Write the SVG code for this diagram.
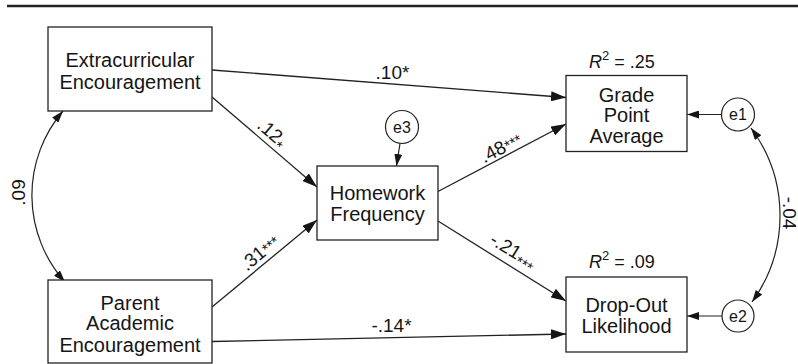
<svg xmlns="http://www.w3.org/2000/svg" width="798" height="364" viewBox="0 0 798 364">
<style>
  .box { fill: #fff; stroke: #222; stroke-width: 1.3; }
  .err { fill: #fff; stroke: #222; stroke-width: 1.2; }
  .lbl { font-family: "Liberation Sans", Arial, sans-serif; font-size: 20px; fill: #151515; text-anchor: middle; }
  .coef { font-family: "Liberation Sans", Arial, sans-serif; font-size: 19px; fill: #151515; text-anchor: middle; }
  .etxt { font-family: "Liberation Sans", Arial, sans-serif; font-size: 16px; fill: #151515; text-anchor: middle; }
  .r2 { font-family: "Liberation Sans", Arial, sans-serif; font-size: 18px; fill: #151515; }
  .edge { fill: none; stroke: #222; stroke-width: 1.3; marker-end: url(#ah); }
  .sedge { fill: none; stroke: #222; stroke-width: 1.2; marker-end: url(#sah); }
  .cov { fill: none; stroke: #222; stroke-width: 1.2; marker-start: url(#sah); marker-end: url(#sah); }
</style>
<defs>
  <marker id="ah" markerUnits="userSpaceOnUse" viewBox="0 0 15 10" markerWidth="15" markerHeight="10" refX="15" refY="5" orient="auto-start-reverse">
    <path d="M0,0 L15,5 L0,10 z" fill="#151515"/>
  </marker>
  <marker id="sah" markerUnits="userSpaceOnUse" viewBox="0 0 12 8" markerWidth="12" markerHeight="8" refX="12" refY="4" orient="auto-start-reverse">
    <path d="M0,0 L12,4 L0,8 z" fill="#151515"/>
  </marker>
</defs>

<line x1="7" y1="6" x2="798" y2="6" stroke="#222" stroke-width="2.5"/>

<g id="connectors">
  <path class="edge" d="M212,70 L566,97.5"/>
  <path class="edge" d="M212,97 L317,187"/>
  <path class="edge" d="M212,307 L317,220"/>
  <path class="edge" d="M212,341.5 L566,334"/>
  <path class="edge" d="M438,191.5 L566,124"/>
  <path class="edge" d="M438,221 L566,301"/>
  <path class="sedge" d="M400,143.5 L396.5,166"/>
  <path class="sedge" d="M721.5,114.5 L687,114.5"/>
  <path class="sedge" d="M722,316 L687,316"/>
  <path class="cov" d="M63,111 A130,130 0 0 0 65,282"/>
  <path class="cov" d="M751,128 A147,147 0 0 1 752,302"/>

  <text class="coef" x="392.5" y="78.5">.10*</text>
  <text class="coef" transform="translate(272,133) rotate(41)" y="6">.12<tspan font-size="15" dy="5">*</tspan></text>
  <text class="coef" transform="translate(260,253) rotate(-39.6)" y="6">.31<tspan font-size="15">***</tspan></text>
  <text class="coef" transform="translate(501,148) rotate(-27.6)" y="6">.48<tspan font-size="15">***</tspan></text>
  <text class="coef" transform="translate(513,251) rotate(31.7)" y="6">-.21<tspan font-size="15" dy="5">***</tspan></text>
  <text class="coef" x="391.5" y="332">-.14*</text>
  <text class="coef" transform="translate(19.5,192.5) rotate(-90)" y="5" font-size="18">.09</text>
  <text class="coef" transform="translate(782.5,213) rotate(90)" y="0" font-size="15">-.04</text>
</g>

<g id="extracurricular">
  <rect class="box" x="48" y="27" width="164" height="84"/>
  <text class="lbl" x="130" y="67">Extracurricular</text>
  <text class="lbl" x="130" y="89">Encouragement</text>
</g>

<g id="parent">
  <rect class="box" x="48" y="280" width="164" height="83"/>
  <text class="lbl" x="130" y="310">Parent</text>
  <text class="lbl" x="130" y="330">Academic</text>
  <text class="lbl" x="130" y="351.5">Encouragement</text>
</g>

<g id="homework">
  <rect class="box" x="317" y="166" width="121" height="74"/>
  <text class="lbl" x="377.5" y="200">Homework</text>
  <text class="lbl" x="377.5" y="221">Frequency</text>
</g>

<g id="gpa">
  <rect class="box" x="566" y="75.5" width="121" height="76"/>
  <text class="lbl" x="626.5" y="101.5">Grade</text>
  <text class="lbl" x="626.5" y="121.5">Point</text>
  <text class="lbl" x="626.5" y="143">Average</text>
  <text class="r2" x="589" y="67.5"><tspan font-style="italic">R</tspan><tspan font-size="13" dy="-8">2</tspan><tspan dy="8"> = .25</tspan></text>
</g>

<g id="dropout">
  <rect class="box" x="566" y="277" width="121" height="75"/>
  <text class="lbl" x="626.5" y="312">Drop-Out</text>
  <text class="lbl" x="626.5" y="332.5">Likelihood</text>
  <text class="r2" x="589" y="268"><tspan font-style="italic">R</tspan><tspan font-size="13" dy="-8">2</tspan><tspan dy="8"> = .09</tspan></text>
</g>

<g id="e3">
  <circle class="err" cx="402" cy="127" r="16.5"/>
  <text class="etxt" x="402" y="132.5">e3</text>
</g>

<g id="e1">
  <circle class="err" cx="738" cy="114.5" r="16.5"/>
  <text class="etxt" x="738" y="120">e1</text>
</g>

<g id="e2">
  <circle class="err" cx="738" cy="316" r="16"/>
  <text class="etxt" x="738" y="321.5">e2</text>
</g>
</svg>
